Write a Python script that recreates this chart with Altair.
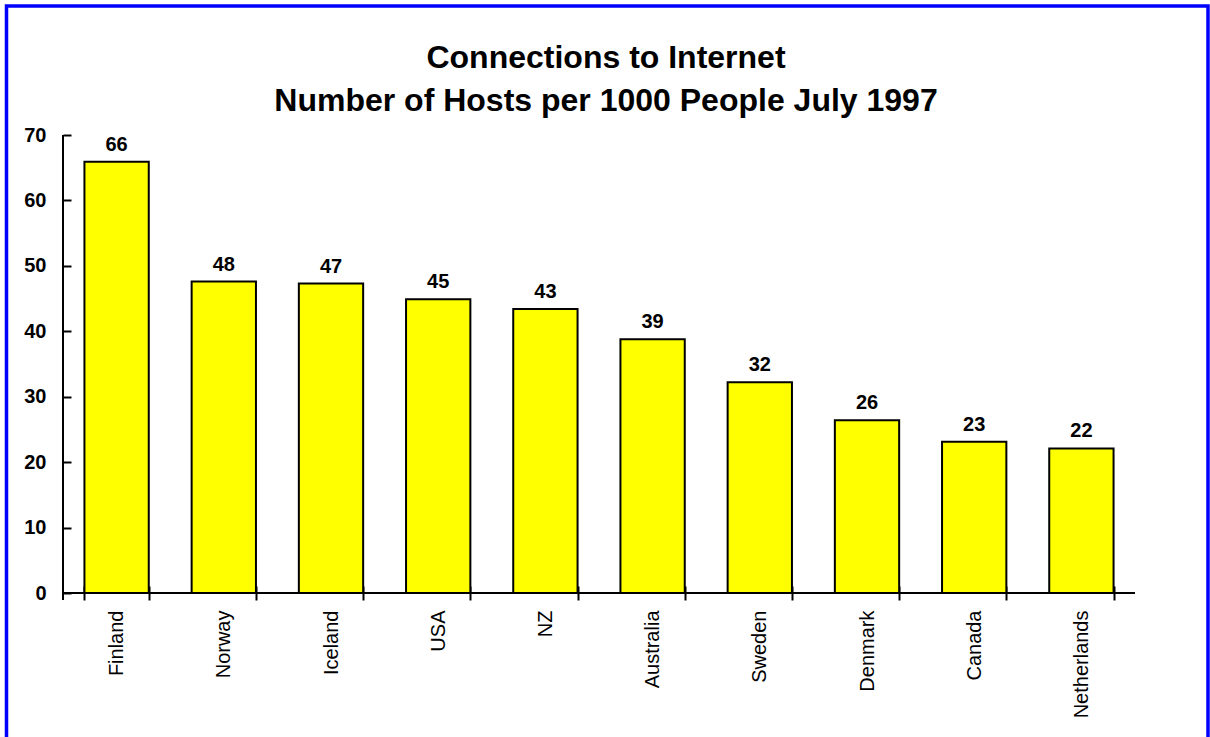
import altair as alt
import pandas as pd

countries = ["Finland", "Norway", "Iceland", "USA", "NZ", "Australia",
             "Sweden", "Denmark", "Canada", "Netherlands"]
hosts = [65.9, 47.6, 47.3, 44.9, 43.4, 38.8, 32.2, 26.4, 23.1, 22.1]
labels = ["66", "48", "47", "45", "43", "39", "32", "26", "23", "22"]
y_ticks = [0, 10, 20, 30, 40, 50, 60, 70]
title_lines = ["Connections to Internet", "Number of Hosts per 1000 People July 1997"]

df = pd.DataFrame({"country": countries, "hosts": hosts, "label": labels})

W, H = 1072, 458
FONT = "Liberation Sans"

x_enc = alt.X(
    "country:N", sort=countries, title=None,
    scale=alt.Scale(paddingInner=0.4, paddingOuter=0.2),
    axis=alt.Axis(orient="bottom", offset=-7, domain=False, tickBand="extent",
                  tickSize=14, tickWidth=2, tickColor="black",
                  labelAngle=-90, labelFont=FONT, labelFontSize=20,
                  labelColor="black", labelPadding=10),
)
y_enc = alt.Y(
    "hosts:Q", title=None,
    scale=alt.Scale(domain=[0, 70], nice=False, zero=True),
    axis=alt.Axis(values=y_ticks, grid=False, domain=False, offset=-8,
                  tickSize=8, tickWidth=2, tickColor="black",
                  labelFont=FONT, labelFontSize=20, labelFontWeight="bold",
                  labelColor="black", labelPadding=17),
)

base = alt.Chart(df)

bars = base.mark_bar(color="#FFFF00", stroke="black", strokeWidth=2).encode(
    x=x_enc, y=y_enc
)

texts = base.mark_text(font=FONT, fontSize=20, fontWeight="bold", color="black",
                       baseline="middle", dy=-17).encode(
    x=alt.X("country:N", sort=countries), y="hosts:Q", text="label:N"
)

one = alt.Data(values=[{"a": 1}])
y_domain = alt.Chart(one).mark_rule(color="black", strokeWidth=2).encode(
    x=alt.value(0), y=alt.value(0), y2=alt.value(H + 7)
)
x_domain = alt.Chart(one).mark_rule(color="black", strokeWidth=2).encode(
    x=alt.value(0), x2=alt.value(W), y=alt.value(H)
)
border = alt.Chart(one).mark_rect(filled=False, stroke="#0000FF", strokeWidth=3.5).encode(
    x=alt.value(6.5 - 63), x2=alt.value(1208 - 63),
    y=alt.value(6 - 135), y2=alt.value(760 - 135)
)

chart = alt.layer(border, bars, texts, y_domain, x_domain).properties(
    width=W, height=H,
    title=alt.TitleParams(text=title_lines, font=FONT, fontSize=32, fontWeight="bold",
                          color="black", lineHeight=43, anchor="middle",
                          frame="group", baseline="bottom", offset=0, dx=7, dy=146),
    autosize=alt.AutoSizeParams(type="none"),
    padding={"left": 63, "top": 135, "right": 75, "bottom": 144},
    background="white",
).configure_view(strokeWidth=0)

chart.save("out.html", embed_options={"renderer": "svg", "actions": False})
